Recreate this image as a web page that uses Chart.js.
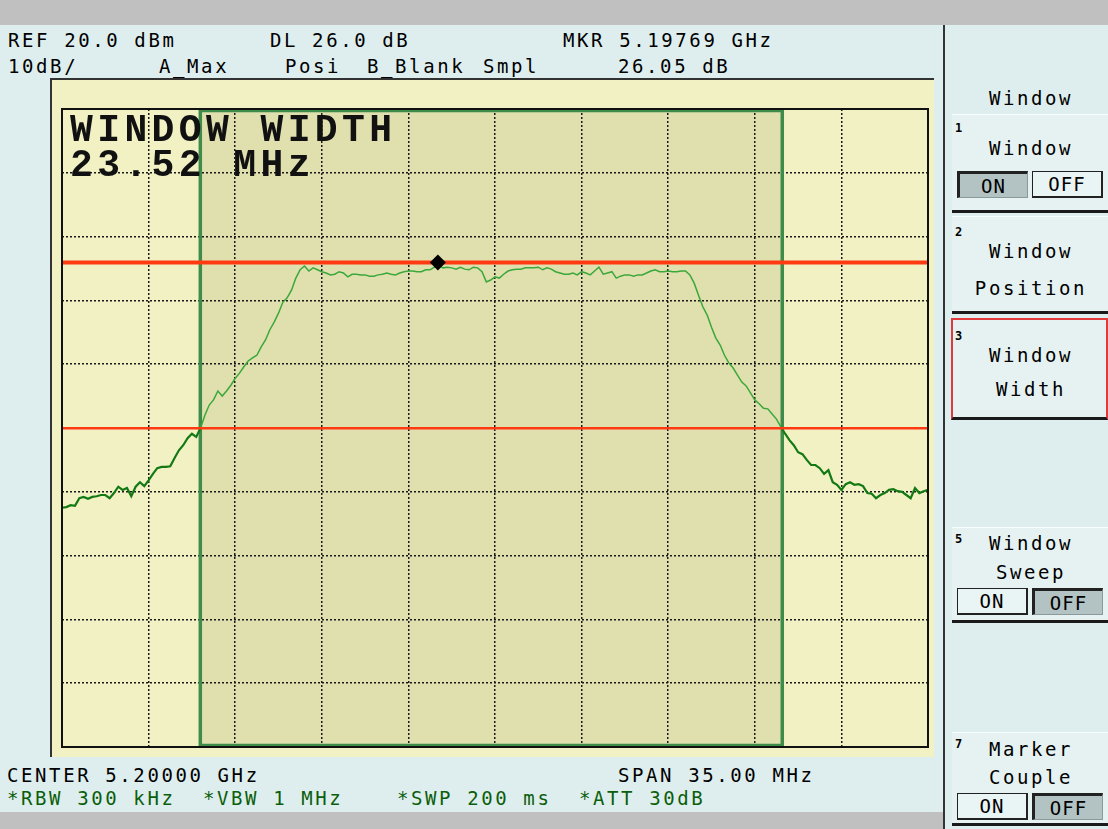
<!DOCTYPE html>
<html>
<head>
<meta charset="utf-8">
<title>Window Width</title>
<script src="https://cdn.jsdelivr.net/npm/chart.js@4.4.1/dist/chart.umd.min.js"></script>
<style>
  html, body { margin: 0; padding: 0; }
  body {
    width: 1108px; height: 829px; position: relative; overflow: hidden;
    background: #deeeee; font-family: 'DejaVu Sans Mono', monospace;
  }
  .abs { position: absolute; white-space: pre; }
  .t { font-size: 19px; line-height: 20px; letter-spacing: 2.6px; color: #000; }
  .g { color: #0b5e0b; }
  .sk { left: 950px; width: 162px; text-align: center; }
  .num { font-size: 12px; line-height: 12px; font-weight: bold; left: 955px; }
  .key {
    position: absolute; left: 952px; width: 156px; box-sizing: border-box;
    background: #e6f2f2; border-bottom: 3px solid #1a1a1a; border-top: 1px solid #f6ffff;
  }
  .btn {
    position: absolute; width: 71px; height: 27px; box-sizing: border-box;
    font-size: 19px; line-height: 24px; text-align: center; letter-spacing: 1px;
  }
  .on  { background: #b3c3c3; border-top: 3px solid #222; border-left: 3px solid #222;
         border-right: 1px solid #8a9a9a; border-bottom: 1px solid #8a9a9a; }
  .off { background: #e9f4f4; border: 1px solid #222; border-right: 2px solid #222; border-bottom: 2px solid #222; }
  #panel {
    position: absolute; left: 50px; top: 78px; width: 884px; height: 679px; box-sizing: border-box;
    background: #f2f1c4; border-top: 2px solid #333; border-left: 2px solid #333;
  }
  #trace { position: absolute; left: 52px; top: 99px; }
  .big { font-family: 'Liberation Mono', 'DejaVu Sans Mono', monospace; font-weight: bold;
         font-size: 38px; line-height: 35px; letter-spacing: 4.4px; color: #111; }
</style>
</head>
<body>
<!-- screen frame -->
<div class="abs" style="left:0;top:0;width:1108px;height:25px;background:#c0c0c0"></div>
<div class="abs" style="left:0;top:812px;width:944px;height:17px;background:#c0c0c0"></div>
<div class="abs" style="left:943px;top:25px;width:2px;height:804px;background:#333"></div>

<!-- header -->
<div class="abs t" style="left:8px;top:30px">REF 20.0 dBm</div>
<div class="abs t" style="left:270px;top:30px">DL 26.0 dB</div>
<div class="abs t" style="left:563px;top:30px">MKR 5.19769 GHz</div>
<div class="abs t" style="left:8px;top:56px">10dB/</div>
<div class="abs t" style="left:159px;top:56px">A_Max</div>
<div class="abs t" style="left:285px;top:56px">Posi</div>
<div class="abs t" style="left:367px;top:56px">B_Blank</div>
<div class="abs t" style="left:483px;top:56px">Smpl</div>
<div class="abs t" style="left:618px;top:56px">26.05 dB</div>

<div id="panel"></div>
<canvas id="trace" width="886" height="658"></canvas>
<div class="abs big" style="left:70px;top:113px">WINDOW WIDTH</div>
<div class="abs big" style="left:70px;top:148px">23.52 MHz</div>

<!-- footer -->
<div class="abs t" style="left:7px;top:765px">CENTER 5.20000 GHz</div>
<div class="abs t" style="left:618px;top:765px">SPAN 35.00 MHz</div>
<div class="abs t g" style="left:7px;top:788px">*RBW 300 kHz</div>
<div class="abs t g" style="left:203px;top:788px">*VBW 1 MHz</div>
<div class="abs t g" style="left:397px;top:788px">*SWP 200 ms</div>
<div class="abs t g" style="left:579px;top:788px">*ATT 30dB</div>

<!-- soft keys -->
<div class="abs t sk" style="top:88px">Window</div>

<div class="key" style="top:114px;height:99px"></div>
<div class="abs num" style="top:122px">1</div>
<div class="abs t sk" style="top:138px">Window</div>
<div class="btn on" style="left:957px;top:171px">ON</div>
<div class="btn off" style="left:1032px;top:171px">OFF</div>

<div class="key" style="top:216px;height:98px"></div>
<div class="abs num" style="top:226px">2</div>
<div class="abs t sk" style="top:241px">Window</div>
<div class="abs t sk" style="top:278px">Position</div>

<div class="key" style="top:318px;height:102px;left:951px;width:157px;border:2px solid #e03a3a;border-bottom:3px solid #1a1a1a"></div>
<div class="abs num" style="top:330px">3</div>
<div class="abs t sk" style="top:345px">Window</div>
<div class="abs t sk" style="top:379px">Width</div>

<div class="key" style="top:527px;height:96px"></div>
<div class="abs num" style="top:533px">5</div>
<div class="abs t sk" style="top:533px">Window</div>
<div class="abs t sk" style="top:562px">Sweep</div>
<div class="btn off" style="left:957px;top:588px">ON</div>
<div class="btn on" style="left:1032px;top:588px">OFF</div>

<div class="key" style="top:732px;height:94px"></div>
<div class="abs num" style="top:738px">7</div>
<div class="abs t sk" style="top:739px">Marker</div>
<div class="abs t sk" style="top:767px">Couple</div>
<div class="btn off" style="left:957px;top:793px">ON</div>
<div class="btn on" style="left:1032px;top:793px">OFF</div>

<script>
// instrument settings
const refLevel = 20;        // dBm, top graticule line
const dbPerDiv = 10;
const centerMHz = 5200;
const spanMHz = 35;
const sweepStepMHz = 0.175; // 201 sweep points across the span

// trace A (dBm), one value per sweep point
const traceDbm = [
  -42.5, -42.4, -42.1, -42.2, -41.0, -40.8, -41.1, -40.8, -40.7, -40.5,
  -40.5, -41.0, -40.2, -39.2, -39.7, -39.4, -40.7, -39.2, -38.5, -39.1,
  -38.2, -37.2, -36.3, -36.1, -36.1, -36.0, -34.7, -33.5, -32.7, -31.6,
  -30.9, -31.4, -30.0, -28.0, -26.4, -25.6, -24.2, -25.0, -24.2, -23.3,
  -22.2, -21.4, -20.4, -19.5, -19.0, -18.6, -17.3, -16.2, -14.6, -13.4,
  -12.0, -10.3, -9.6, -8.4, -6.5, -5.2, -4.6, -5.4, -4.9, -5.2,
  -5.5, -5.7, -6.0, -5.9, -5.5, -5.7, -6.3, -5.9, -5.9, -6.0,
  -6.0, -6.2, -6.2, -6.0, -5.9, -5.7, -5.9, -6.0, -5.7, -5.5,
  -5.4, -5.4, -5.5, -5.5, -5.2, -5.2, -4.8, -4.5, -4.9, -4.8,
  -4.9, -5.1, -4.8, -5.1, -5.2, -4.8, -4.9, -5.5, -7.1, -6.8,
  -6.3, -6.5, -5.9, -5.4, -5.2, -5.1, -5.1, -4.9, -4.9, -4.9,
  -4.8, -5.2, -4.9, -5.1, -5.5, -5.7, -5.9, -5.9, -5.7, -6.0,
  -5.5, -5.7, -6.0, -5.4, -4.8, -5.9, -5.7, -5.5, -6.5, -6.2,
  -6.0, -6.0, -6.2, -6.0, -6.0, -5.7, -5.4, -5.2, -5.5, -5.5,
  -5.4, -5.5, -5.5, -5.4, -5.4, -6.0, -7.3, -9.2, -11.0, -12.3,
  -14.2, -15.9, -17.0, -18.6, -19.8, -20.6, -21.7, -22.8, -23.4, -24.5,
  -25.6, -26.2, -26.9, -27.0, -27.8, -28.6, -29.8, -30.9, -31.9, -32.7,
  -33.8, -34.1, -35.0, -35.8, -35.8, -36.3, -37.2, -36.6, -38.5, -38.9,
  -39.7, -38.8, -38.5, -38.9, -38.8, -39.1, -40.2, -40.3, -41.0, -40.5,
  -40.2, -39.7, -39.6, -39.9, -40.0, -40.5, -41.0, -39.4, -40.2, -39.9, -39.7
];

// marker, display line and window
const markerMHz = 5197.69;
const markerDbm = -4.05;
const dlOffsetDb = 26;
const windowStartMHz = 5188.09;
const windowWidthMHz = 23.52;

const startMHz = centerMHz - spanMHz / 2;
const stopMHz = centerMHz + spanMHz / 2;
const windowStopMHz = windowStartMHz + windowWidthMHz;
const traceMHz = traceDbm.map((_, i) => startMHz + i * sweepStepMHz);

const inWindow = seg => {
  const mid = (seg.p0.parsed.x + seg.p1.parsed.x) / 2;
  return mid >= windowStartMHz && mid <= windowStopMHz;
};

// cream screen, window shading, window edges and graticule frame
const screenPlugin = {
  id: 'screen',
  beforeDraw(chart) {
    const { ctx, chartArea: a, scales: { x } } = chart;
    const x0 = x.getPixelForValue(windowStartMHz);
    const x1 = x.getPixelForValue(windowStopMHz);
    ctx.save();
    ctx.fillStyle = '#f2f1c4';
    ctx.fillRect(a.left, a.top, a.width, a.height);
    ctx.fillStyle = '#e0dfae';
    ctx.fillRect(x0, a.top, x1 - x0, a.height);
    ctx.restore();
  },
  beforeDatasetsDraw(chart) {
    const { ctx, chartArea: a, scales: { x } } = chart;
    const x0 = x.getPixelForValue(windowStartMHz);
    const x1 = x.getPixelForValue(windowStopMHz);
    ctx.save();
    ctx.strokeStyle = '#3e8b4a';
    ctx.lineWidth = 3.5;
    ctx.strokeRect(x0, a.top + 1.5, x1 - x0, a.height - 3);
    ctx.restore();
  },
  afterDraw(chart) {
    const { ctx, chartArea: a } = chart;
    ctx.save();
    ctx.strokeStyle = '#111';
    ctx.lineWidth = 2;
    ctx.strokeRect(a.left, a.top, a.width, a.height);
    ctx.restore();
  }
};

new Chart(document.getElementById('trace'), {
  type: 'line',
  data: {
    datasets: [
      {
        label: 'Marker',
        type: 'scatter',
        data: [{ x: markerMHz, y: markerDbm }],
        pointStyle: 'rectRot',
        pointRadius: 8,
        backgroundColor: '#000',
        borderColor: '#000',
        borderWidth: 0
      },
      {
        label: 'Marker level',
        data: [{ x: startMHz, y: markerDbm }, { x: stopMHz, y: markerDbm }],
        borderColor: '#ff3a12',
        borderWidth: 4,
        pointRadius: 0,
        clip: 0
      },
      {
        label: 'Display line',
        data: [{ x: startMHz, y: markerDbm - dlOffsetDb }, { x: stopMHz, y: markerDbm - dlOffsetDb }],
        borderColor: '#ff3a12',
        borderWidth: 2.5,
        pointRadius: 0,
        clip: 0
      },
      {
        label: 'Trace A',
        data: traceMHz.map((f, i) => ({ x: f, y: traceDbm[i] })),
        pointRadius: 0,
        tension: 0,
        borderColor: '#3aa83a',
        borderWidth: 1.5,
        segment: {
          borderColor: seg => inWindow(seg) ? '#3aa83a' : '#137a13',
          borderWidth: seg => inWindow(seg) ? 1.5 : 2.2
        }
      }
    ]
  },
  options: {
    responsive: false,
    animation: false,
    events: [],
    layout: { padding: 10 },
    plugins: { legend: { display: false }, tooltip: { enabled: false } },
    scales: {
      x: {
        type: 'linear',
        min: startMHz,
        max: stopMHz,
        ticks: { display: false, stepSize: spanMHz / 10 },
        grid: { color: '#1a1a1a', lineWidth: 1.5, drawTicks: false },
        border: { display: false, dash: [2, 2] }
      },
      y: {
        min: refLevel - 10 * dbPerDiv,
        max: refLevel,
        ticks: { display: false, stepSize: dbPerDiv },
        grid: { color: '#1a1a1a', lineWidth: 1.5, drawTicks: false },
        border: { display: false, dash: [2, 2] }
      }
    }
  },
  plugins: [screenPlugin]
});
</script>
</body>
</html>
